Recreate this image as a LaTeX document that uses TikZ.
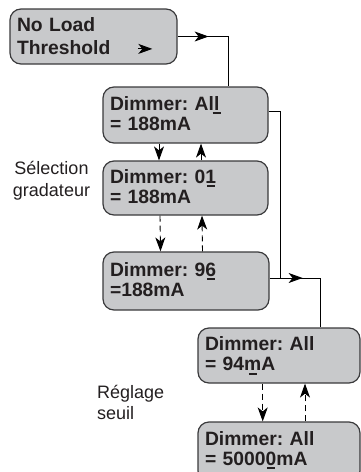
\documentclass[tikz,border=0pt]{standalone}
\usepackage{fontspec}
\setmainfont{Liberation Sans}
\usetikzlibrary{arrows.meta,decorations.markings}
\definecolor{lcdfill}{RGB}{200,201,203}
\definecolor{lcdedge}{RGB}{58,58,60}
\definecolor{lcdtext}{RGB}{35,31,32}
\newcommand\curpos[1]{\ooalign{#1\cr\hidewidth\smash{\rule[-4pt]{8pt}{2pt}}\hidewidth\cr}}
\frenchspacing
\tikzset{
  screen/.style={draw=lcdedge, line width=1.2pt, fill=lcdfill, rounded corners=11pt,
    text width=151pt, inner xsep=7pt, align=left, text depth=23.5pt, text=lcdtext,
    font=\fontsize{19.3}{19.8}\selectfont\bfseries},
  flow/.style={-{Stealth[length=14pt,width=10pt,inset=4pt]}, line width=0.9pt},
  dashflow/.style={flow, dash pattern=on 6pt off 4pt},
  link/.style={line width=0.9pt},
  midtip/.style={postaction={decorate}, decoration={markings,
    mark=at position #1 with {\arrow{Stealth[length=14pt,width=10pt,inset=4pt]}}}},
  note/.style={font=\fontsize{18}{21.7}\selectfont, text=lcdtext, inner sep=0pt}
}
\begin{document}
\begin{tikzpicture}[x=1pt, y=-1pt]
  \useasboundingbox (0,0) rectangle (361,472);

  \node[screen, text width=153pt, minimum height=55pt, text depth=23pt,
    font=\fontsize{19.3}{22.6}\selectfont\bfseries] (nlt) at (93.5,36.5) {No Load\\Threshold};
  \node[screen, minimum height=56pt] (dimall) at (185.5,115) {Dimmer: Al\curpos{l}\\= 188mA};
  \node[screen, minimum height=54pt] (dimone) at (185.5,188) {Dimmer: 0\curpos{1}\\= 188mA};
  \node[screen, text width=152pt, minimum height=58pt] (dimlast) at (186,281) {Dimmer: 9\curpos{6}\\=188mA};
  \node[screen, text width=148pt, minimum height=55pt] (thrhi) at (279,355.5) {Dimmer: All\\= 94\curpos{m}A};
  \node[screen, text width=148pt, minimum height=60pt, text depth=27pt] (thrlo) at (279,452) {Dimmer: All\\= 5000\curpos{0}mA};

  \node[note, align=center] (selgrad) at (51.5,181) {Sélection\\gradateur};
  \node[note, align=left, anchor=west] (regseuil) at (97,402.5) {Réglage\\seuil};

  % arrow head inside the first screen
  \draw[flow] ([shift={(-39.3pt,15.7pt)}]nlt.south east) -- ++(14,0);

  \coordinate (jn) at (280,278);
  \draw[link, midtip=31pt] (nlt.east) -| ([xshift=42.5pt]dimall.north);
  \draw[link] ([yshift=4pt]dimall.east) -| (jn);
  \draw[link, midtip=33pt] ([yshift=3pt]dimlast.east) -| ([xshift=41pt]thrhi.north);

  \draw[flow] ([xshift=-26.5pt]dimall.south) -- ([xshift=-26.5pt]dimone.north);
  \draw[flow] ([xshift=15.5pt]dimone.north) -- ([xshift=15.5pt]dimall.south);
  \draw[dashflow] ([xshift=-25.5pt]dimone.south) -- ([xshift=-25.5pt]dimlast.north);
  \draw[dashflow] ([xshift=16.5pt]dimlast.north) -- ([xshift=16.5pt]dimone.south);
  \draw[dashflow] ([xshift=-16.3pt]thrhi.south) -- ([xshift=-16.3pt]thrlo.north);
  \draw[dashflow] ([xshift=26pt]thrlo.north) -- ([xshift=26pt]thrhi.south);
\end{tikzpicture}
\end{document}
